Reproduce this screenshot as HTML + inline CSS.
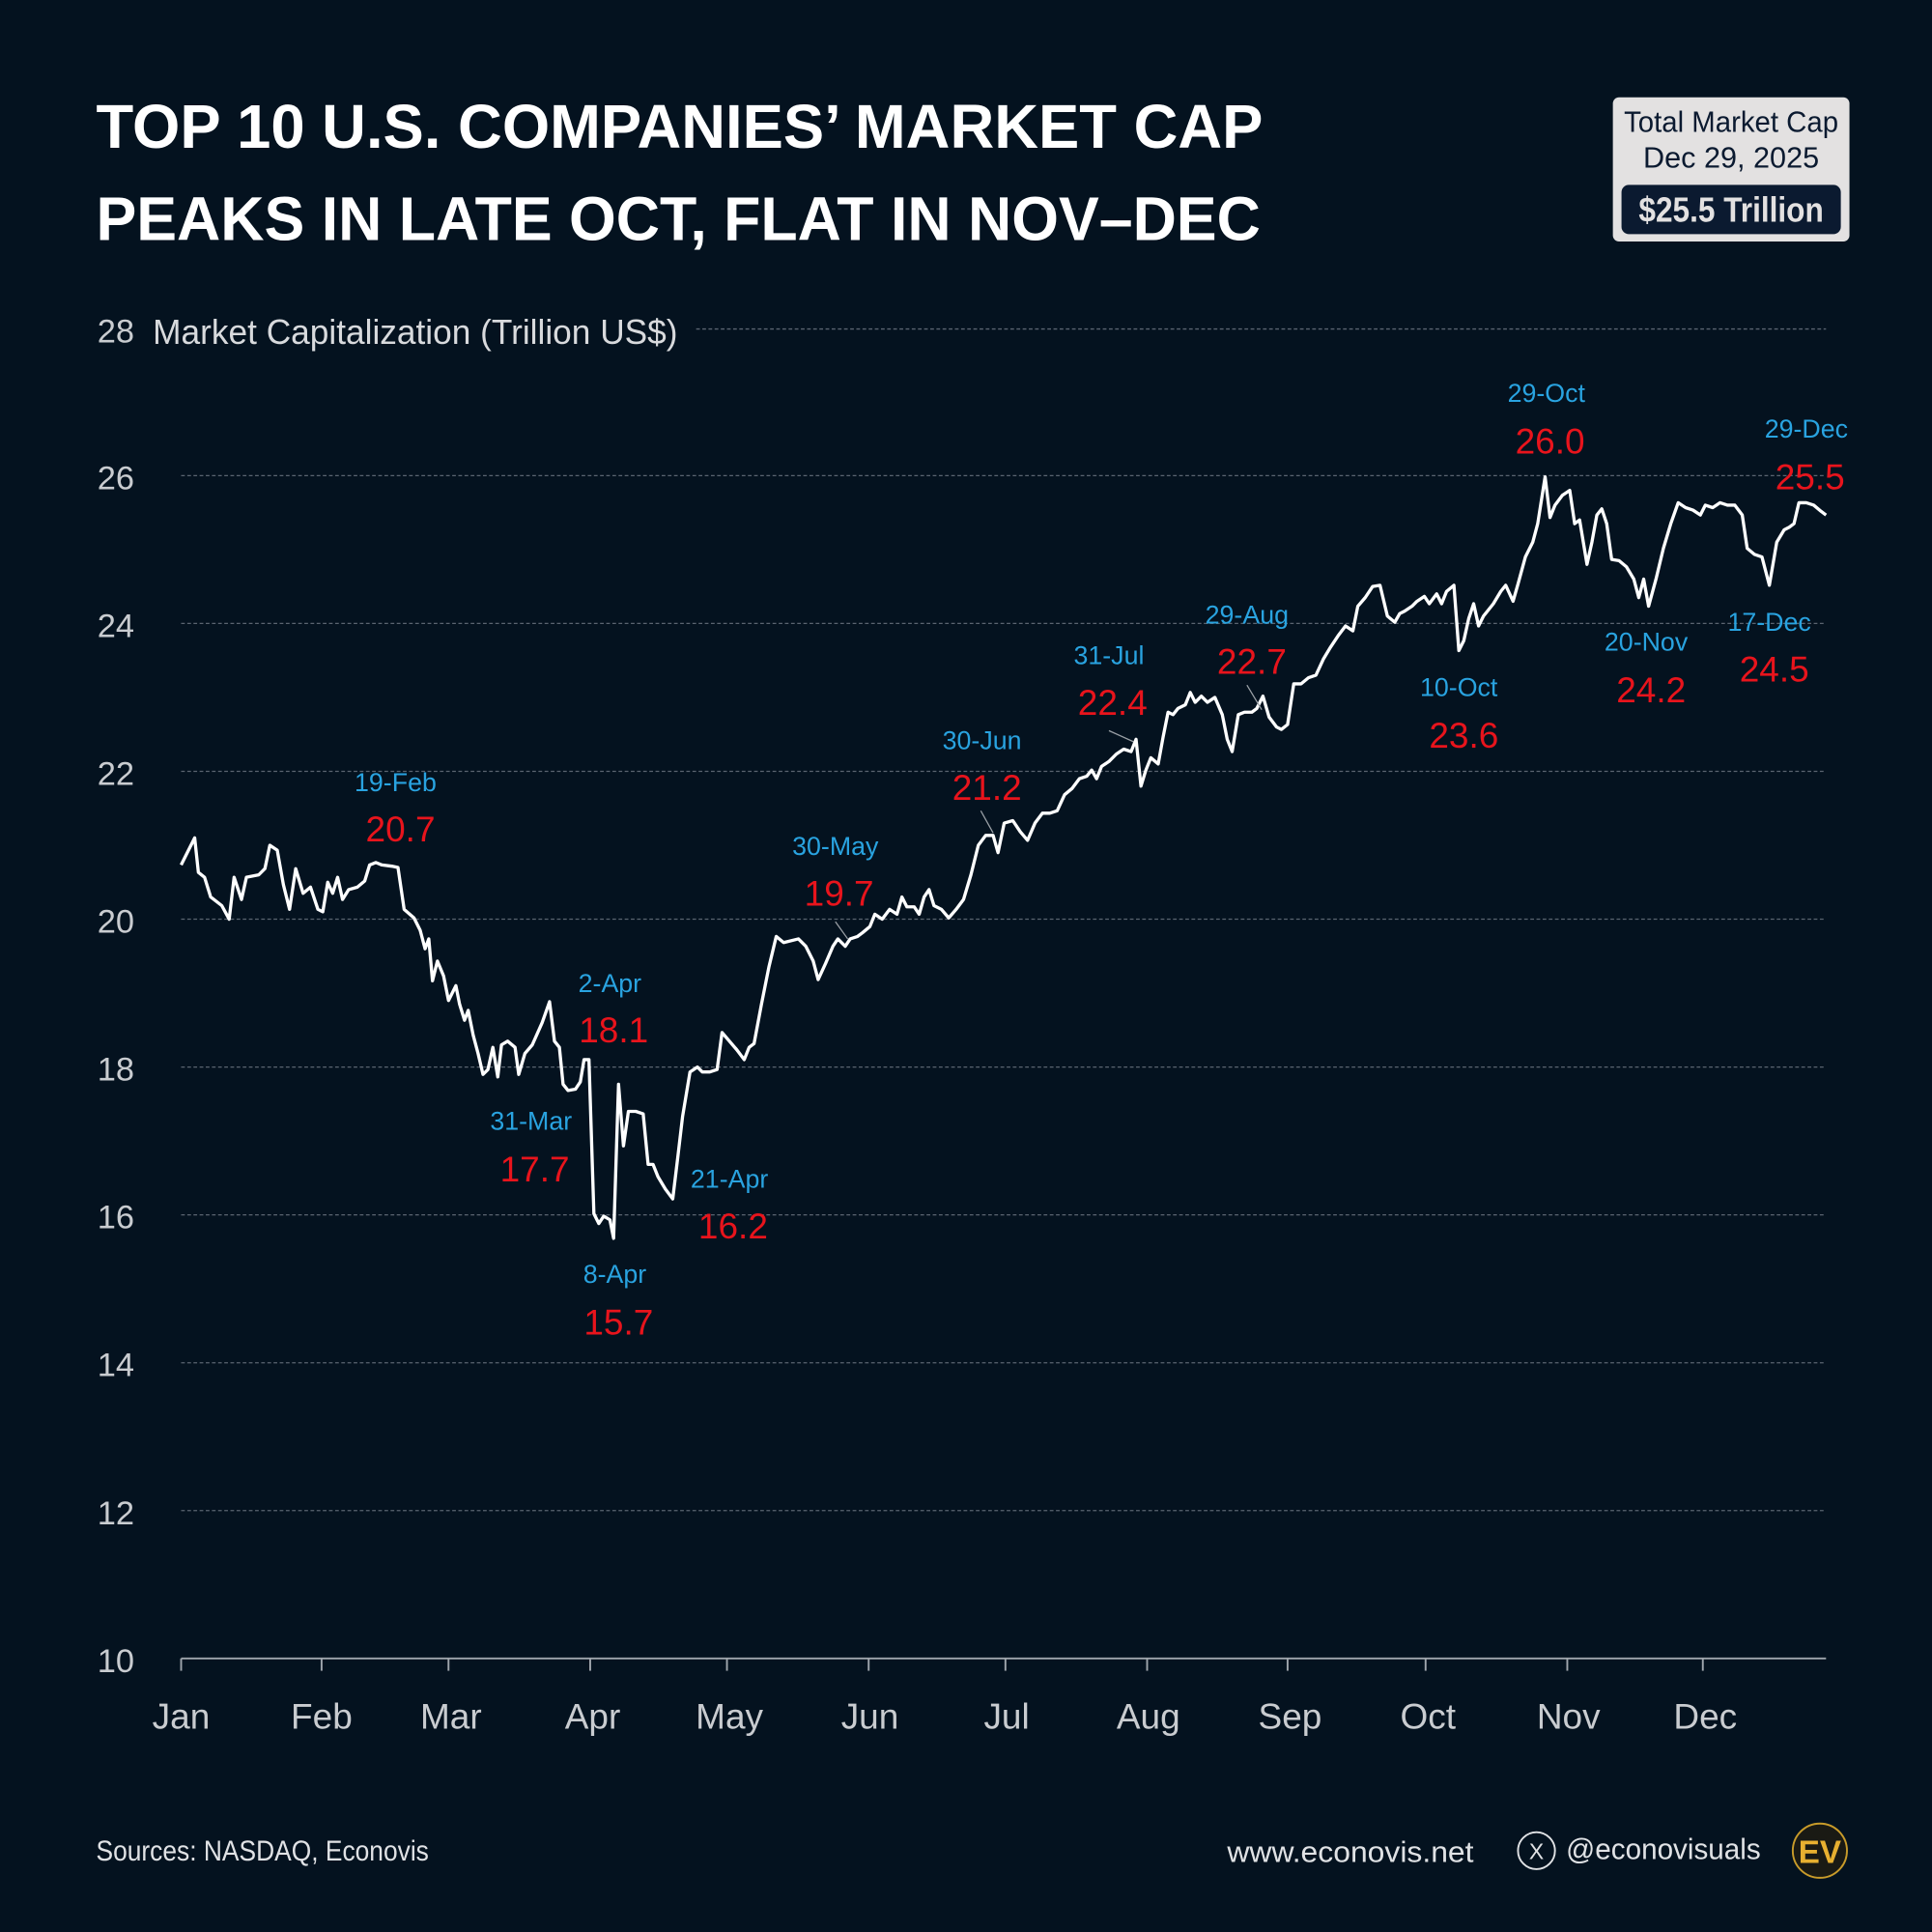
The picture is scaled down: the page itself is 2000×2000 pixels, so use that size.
<!DOCTYPE html>
<html><head><meta charset="utf-8"><style>
html,body{margin:0;padding:0;background:#04121f;}
svg{display:block}
text{font-family:"Liberation Sans",sans-serif;}
</style></head><body>
<svg width="2000" height="2000" viewBox="0 0 1568 1568" xmlns="http://www.w3.org/2000/svg">
<rect width="1568" height="1568" fill="#04121f"/>
<text x="78" y="120" fill="#fff" font-size="50" font-weight="bold" textLength="947" lengthAdjust="spacingAndGlyphs">TOP 10 U.S. COMPANIES’ MARKET CAP</text>
<text x="78" y="195" fill="#fff" font-size="50" font-weight="bold" textLength="945" lengthAdjust="spacingAndGlyphs">PEAKS IN LATE OCT, FLAT IN NOV–DEC</text>
<rect x="1309" y="79" width="192" height="117" rx="5" fill="#e3e1e1"/>
<rect x="1316" y="150" width="178" height="40" rx="6" fill="#0b1a30"/>
<text x="1405" y="107" text-anchor="middle" font-size="24" fill="#0b1a30" textLength="174" lengthAdjust="spacingAndGlyphs">Total Market Cap</text>
<text x="1405" y="136" text-anchor="middle" font-size="24" fill="#0b1a30">Dec 29, 2025</text>
<text x="1405" y="180" text-anchor="middle" font-size="28" font-weight="bold" fill="#e3e1e1" textLength="150" lengthAdjust="spacingAndGlyphs">$25.5 Trillion</text>
<g stroke="#5a6470" stroke-width="1" stroke-dasharray="3,2">
<line x1="565" y1="267" x2="1482" y2="267"/>
<line x1="147" y1="386" x2="1482" y2="386"/>
<line x1="147" y1="506" x2="1482" y2="506"/>
<line x1="147" y1="626" x2="1482" y2="626"/>
<line x1="147" y1="746" x2="1482" y2="746"/>
<line x1="147" y1="866" x2="1482" y2="866"/>
<line x1="147" y1="986" x2="1482" y2="986"/>
<line x1="147" y1="1106" x2="1482" y2="1106"/>
<line x1="147" y1="1226" x2="1482" y2="1226"/>
</g>
<line x1="147" y1="1346" x2="1482" y2="1346" stroke="#a0a6ad" stroke-width="1.5"/>
<g fill="#c9ccd0" font-size="27" text-anchor="middle">
<text x="94" y="278">28</text><text x="94" y="397">26</text><text x="94" y="517">24</text><text x="94" y="637">22</text><text x="94" y="757">20</text><text x="94" y="877">18</text><text x="94" y="997">16</text><text x="94" y="1117">14</text><text x="94" y="1237">12</text><text x="94" y="1357">10</text>
</g>
<text x="124" y="279" fill="#d8dadd" font-size="28" textLength="426" lengthAdjust="spacingAndGlyphs">Market Capitalization (Trillion US$)</text>
<g stroke="#a0a6ad" stroke-width="1.5">
<line x1="147" y1="1346" x2="147" y2="1356"/><line x1="261" y1="1346" x2="261" y2="1356"/><line x1="364" y1="1346" x2="364" y2="1356"/><line x1="479" y1="1346" x2="479" y2="1356"/><line x1="590" y1="1346" x2="590" y2="1356"/><line x1="705" y1="1346" x2="705" y2="1356"/><line x1="816" y1="1346" x2="816" y2="1356"/><line x1="931" y1="1346" x2="931" y2="1356"/><line x1="1045" y1="1346" x2="1045" y2="1356"/><line x1="1157" y1="1346" x2="1157" y2="1356"/><line x1="1272" y1="1346" x2="1272" y2="1356"/><line x1="1382" y1="1346" x2="1382" y2="1356"/>
</g>
<g fill="#c9ccd0" font-size="29" text-anchor="middle">
<text x="147" y="1403">Jan</text><text x="261" y="1403">Feb</text><text x="366" y="1403">Mar</text><text x="481" y="1403">Apr</text><text x="592" y="1403">May</text><text x="706" y="1403">Jun</text><text x="817" y="1403">Jul</text><text x="932" y="1403">Aug</text><text x="1047" y="1403">Sep</text><text x="1159" y="1403">Oct</text><text x="1273" y="1403">Nov</text><text x="1384" y="1403">Dec</text>
</g>
<polyline fill="none" stroke="#fff" stroke-width="2.6" stroke-linejoin="round" points="147,702 152,692 158,680 161,708 166,712 171,728 180,735 186,746 190,712 196,730 200,712 210,710 215,705 219,686 225,690 230,718 235,738 240,705 246,725 252,720 258,738 262,740 266,716 270,725 274,712 278,730 283,722 290,720 296,715 300,702 305,700 310,702 318,703 323,704 328,738 336,745 341,755 345,770 348,762 351,796 355,780 360,792 364,812 370,800 373,815 377,828 380,820 384,840 388,855 392,872 396,868 400,850 404,874 407,848 412,845 418,850 421,872 426,855 432,848 440,830 446,813 450,845 454,850 457,880 461,885 467,884 471,878 474,860 478,860 482,985 486,993 490,987 495,990 498,1005 502,880 506,930 510,902 516,902 522,904 526,945 530,945 534,955 540,965 546,973 550,940 554,906 560,870 566,866 570,870 576,870 582,868 586,838 592,845 598,852 604,860 608,850 612,847 618,815 624,785 630,760 636,765 648,762 654,768 660,780 664,795 670,782 676,768 680,762 686,768 690,762 696,760 700,757 706,752 710,742 716,746 722,738 728,742 732,728 736,736 742,736 746,742 750,728 754,722 758,735 764,738 770,745 776,738 782,730 788,710 794,686 800,678 806,678 810,692 815,668 822,666 828,675 834,682 840,668 846,660 852,660 858,658 864,645 870,640 876,632 882,630 886,625 890,632 894,622 900,618 906,612 912,608 918,610 922,600 926,638 930,625 934,615 940,620 944,598 948,578 952,580 956,575 962,572 966,562 970,570 975,565 980,570 986,566 992,580 996,600 1000,610 1005,580 1010,578 1016,578 1020,575 1025,565 1030,582 1036,590 1040,592 1045,588 1050,555 1056,555 1062,550 1068,548 1074,535 1080,525 1086,516 1092,508 1098,512 1102,492 1108,485 1114,476 1120,475 1126,500 1132,505 1136,498 1140,496 1146,492 1150,488 1156,484 1160,490 1166,482 1170,490 1174,480 1180,475 1184,528 1188,520 1192,502 1196,490 1200,508 1204,500 1208,495 1212,490 1218,480 1222,475 1228,488 1232,474 1238,452 1244,440 1248,425 1254,387 1258,420 1262,410 1268,402 1274,398 1278,425 1282,422 1288,458 1292,440 1296,418 1300,413 1304,425 1308,454 1314,455 1320,460 1326,470 1330,485 1334,470 1338,492 1344,470 1350,445 1356,425 1362,408 1368,412 1374,414 1380,418 1384,410 1390,412 1396,408 1402,410 1408,410 1414,418 1418,445 1424,450 1430,452 1436,475 1442,440 1448,430 1452,428 1456,425 1460,408 1466,408 1472,410 1478,415 1482,418"/>
<g stroke="#9aa0a6" stroke-width="1">
<line x1="678" y1="748" x2="688" y2="762"/><line x1="796" y1="658" x2="806" y2="676"/><line x1="900" y1="593" x2="920" y2="602"/><line x1="1012" y1="556" x2="1024" y2="576"/>
</g>
<g font-size="21" fill="#29a3e0" text-anchor="middle">
<text x="321" y="642">19-Feb</text><text x="431" y="917">31-Mar</text><text x="495" y="805">2-Apr</text><text x="499" y="1041">8-Apr</text><text x="592" y="964">21-Apr</text><text x="678" y="694">30-May</text><text x="797" y="608">30-Jun</text><text x="900" y="539">31-Jul</text><text x="1012" y="506">29-Aug</text><text x="1184" y="565">10-Oct</text><text x="1255" y="326">29-Oct</text><text x="1336" y="528">20-Nov</text><text x="1436" y="512">17-Dec</text><text x="1466" y="355">29-Dec</text>
</g>
<g font-size="29" fill="#e8141c" text-anchor="middle">
<text x="325" y="683">20.7</text><text x="434" y="959">17.7</text><text x="498" y="846">18.1</text><text x="502" y="1083">15.7</text><text x="595" y="1005">16.2</text><text x="681" y="735">19.7</text><text x="801" y="649">21.2</text><text x="903" y="580">22.4</text><text x="1016" y="547">22.7</text><text x="1188" y="607">23.6</text><text x="1258" y="368">26.0</text><text x="1340" y="570">24.2</text><text x="1440" y="553">24.5</text><text x="1469" y="397">25.5</text>
</g>
<text x="78" y="1510" fill="#e0e2e5" font-size="23" textLength="270" lengthAdjust="spacingAndGlyphs">Sources: NASDAQ, Econovis</text>
<text x="996" y="1511" fill="#e0e2e5" font-size="24" textLength="200" lengthAdjust="spacingAndGlyphs">www.econovis.net</text>
<circle cx="1247" cy="1502" r="15" fill="none" stroke="#e0e2e5" stroke-width="1.5"/>
<text x="1247" y="1509" fill="#e0e2e5" font-size="18" text-anchor="middle">X</text>
<text x="1271" y="1509" fill="#e0e2e5" font-size="24" textLength="158" lengthAdjust="spacingAndGlyphs">@econovisuals</text>
<circle cx="1477" cy="1502" r="22" fill="#1a1a14" stroke="#c89b2a" stroke-width="1.5"/>
<text x="1477" y="1512" fill="#e8b030" font-size="26" font-weight="bold" text-anchor="middle">EV</text>
</svg>
</body></html>
